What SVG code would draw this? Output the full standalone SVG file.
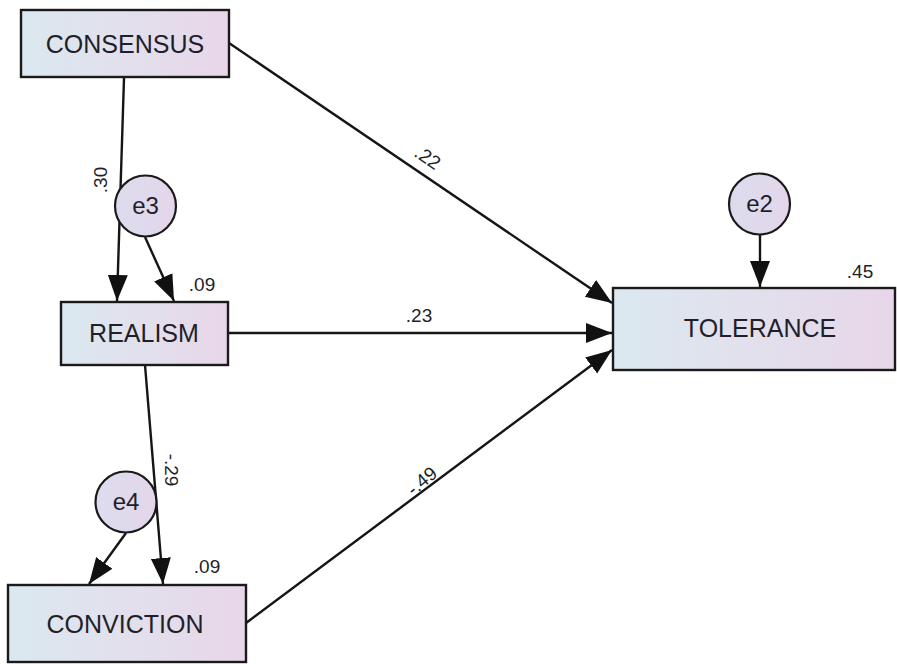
<svg xmlns="http://www.w3.org/2000/svg" width="897" height="664" viewBox="0 0 897 664">
<style>
.box{stroke:#1a1a1a;stroke-width:2.4;fill:url(#g)}
.circ{stroke:#1a1a1a;stroke-width:2.2;fill:url(#gc)}
.lbl{font-family:"Liberation Sans",Arial,sans-serif;font-size:25px;fill:#1f1f2a;text-anchor:middle}
.el{font-family:"Liberation Sans",Arial,sans-serif;font-size:24px;fill:#1f1f2a;text-anchor:middle}
.num{font-family:"Liberation Sans",Arial,sans-serif;font-size:19px;fill:#1f1f2a;text-anchor:middle}
.c{stroke:#151515;stroke-width:2.4;fill:none;marker-end:url(#ah)}
</style>
<defs>
<linearGradient id="g" x1="0" y1="0" x2="1" y2="0">
<stop offset="0" stop-color="#dbe8ef"/>
<stop offset="0.5" stop-color="#e2e0ec"/>
<stop offset="1" stop-color="#e8d6e9"/>
</linearGradient>
<linearGradient id="gc" x1="0" y1="0" x2="1" y2="0">
<stop offset="0" stop-color="#dcdcee"/>
<stop offset="1" stop-color="#e4d6ea"/>
</linearGradient>
<marker id="ah" markerUnits="userSpaceOnUse" markerWidth="28" markerHeight="22" refX="26" refY="10" orient="auto">
<path d="M0,0 L26,10 L0,20 Z" fill="#111"/>
</marker>
</defs>
<g id="connectors">
<line class="c" x1="124" y1="78" x2="117" y2="301"/>
<line class="c" x1="145" y1="237" x2="174" y2="301"/>
<line class="c" x1="228" y1="333" x2="612" y2="333"/>
<line class="c" x1="229" y1="43" x2="612" y2="303"/>
<line class="c" x1="246" y1="623" x2="612" y2="350"/>
<line class="c" x1="145" y1="365" x2="163" y2="584"/>
<line class="c" x1="126" y1="533" x2="89" y2="584"/>
<line class="c" x1="760" y1="235" x2="760" y2="287"/>
<text class="num" transform="translate(107,180) rotate(-90)">.30</text>
<text class="num" transform="translate(424,163) rotate(34)">.22</text>
<text class="num" x="419" y="322">.23</text>
<text class="num" transform="translate(165,470) rotate(90)">-.29</text>
<text class="num" transform="translate(426,486) rotate(-40)">-.49</text>
</g>
<g id="consensus">
<rect class="box" x="21" y="10" width="208" height="67"/>
<text class="lbl" x="125" y="53">CONSENSUS</text>
</g>
<g id="realism">
<rect class="box" x="61" y="302" width="167" height="63"/>
<text class="lbl" x="144" y="342">REALISM</text>
<text class="num" x="202" y="291">.09</text>
</g>
<g id="tolerance">
<rect class="box" x="613" y="288" width="282" height="82"/>
<text class="lbl" x="760" y="337">TOLERANCE</text>
<text class="num" x="860" y="278">.45</text>
</g>
<g id="conviction">
<rect class="box" x="8" y="585" width="238" height="77"/>
<text class="lbl" x="125" y="633">CONVICTION</text>
<text class="num" x="207" y="573">.09</text>
</g>
<g id="e3">
<circle class="circ" cx="145.5" cy="206" r="30.5"/>
<text class="el" x="145.5" y="214">e3</text>
</g>
<g id="e2">
<circle class="circ" cx="759.5" cy="204" r="30.5"/>
<text class="el" x="759.5" y="212">e2</text>
</g>
<g id="e4">
<circle class="circ" cx="126" cy="502" r="30.5"/>
<text class="el" x="126" y="510">e4</text>
</g>
</svg>
